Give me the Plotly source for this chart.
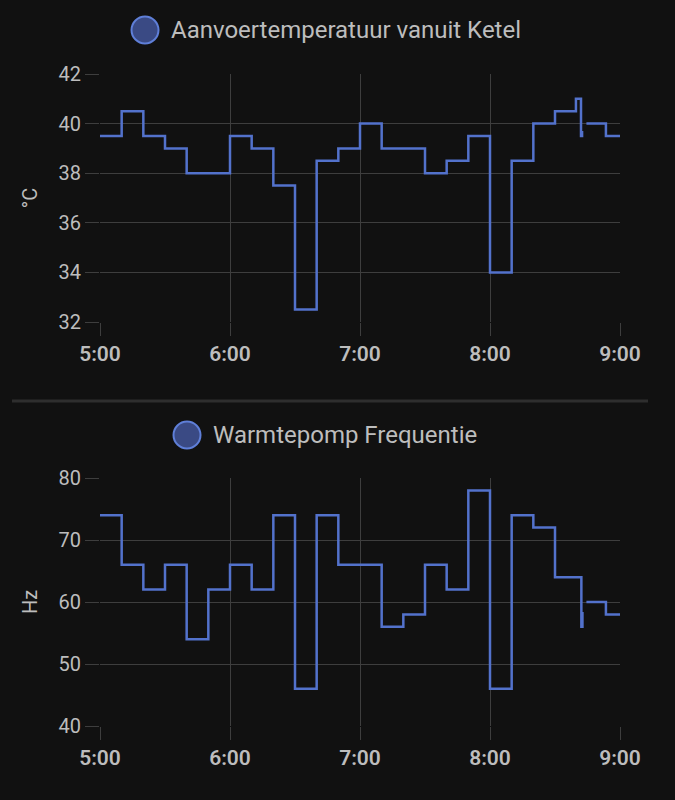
import plotly.graph_objects as go

# Aanvoertemperatuur vanuit Ketel (step data, None = gap)
temp_times = ['05:00', '05:10', '05:20', '05:30', '05:40', '06:00', '06:10', '06:20',
              '06:30', '06:40', '06:50', '07:00', '07:10', '07:30', '07:40', '07:50',
              '08:00', '08:10', '08:20', '08:30', '08:39:40', '08:42:00', '08:42:30',
              '08:43:30', '08:44:30', '08:53:30', '09:00']
temp_values = [39.5, 40.5, 39.5, 39, 38, 39.5, 39, 37.5,
               32.5, 38.5, 39, 40, 39, 38, 38.5, 39.5,
               34, 38.5, 40, 40.5, 41, 39.5, 39.7,
               None, 40, 39.5, 39.5]

# Warmtepomp Frequentie
freq_times = ['05:00', '05:10', '05:20', '05:30', '05:40', '05:50', '06:00', '06:10',
              '06:20', '06:30', '06:40', '06:50', '07:10', '07:20', '07:30', '07:40',
              '07:50', '08:00', '08:10', '08:20', '08:30', '08:42:10', '08:42:40',
              '08:43:30', '08:44:30', '08:53:30', '09:00']
freq_values = [74, 66, 62, 66, 54, 62, 66, 62,
               74, 46, 74, 66, 56, 58, 66, 62,
               78, 46, 74, 72, 64, 56, 58.4,
               None, 60, 58, 58]

day = '2024-01-01 '
temp_x = [day + t for t in temp_times]
freq_x = [day + t for t in freq_times]

hour_ticks = [day + h for h in ['05:00', '06:00', '07:00', '08:00', '09:00']]

bg = '#111111'
grid = '#3e3e3e'
txt = '#bdbdbd'
blue = '#5372cc'

W, H = 675, 800
# plot area in pixels (both charts share it)
L, R, T, B = 100, 620, 74, 726
PW, PH = R - L, B - T


def px(x):
    return (x - L) / PW


def py(y):
    return 1 - (y - T) / PH


fig = go.Figure()
fig.add_trace(go.Scatter(x=temp_x, y=temp_values, mode='lines', line_shape='hv',
                         line=dict(color=blue, width=2.5), connectgaps=False,
                         xaxis='x', yaxis='y', showlegend=False))
fig.add_trace(go.Scatter(x=freq_x, y=freq_values, mode='lines', line_shape='hv',
                         line=dict(color=blue, width=2.5), connectgaps=False,
                         xaxis='x2', yaxis='y2', showlegend=False))

xcommon = dict(type='date', range=[day + '05:00', day + '09:00'], tickvals=hour_ticks,
               tickformat='%-H:%M', showgrid=True, gridcolor=grid, gridwidth=1,
               ticks='outside', ticklen=13, tickcolor=grid, showline=False, zeroline=False,
               automargin=False,
               tickfont=dict(family='Roboto', size=21, color=txt, weight=600))
ycommon = dict(showgrid=True, gridcolor=grid, gridwidth=1, ticks='outside', ticklen=14,
               tickcolor=grid, showline=False, zeroline=False, automargin=False,
               tickfont=dict(family='Roboto', size=20, color=txt))

fig.update_layout(
    width=W, height=H,
    margin=dict(l=L, r=W - R, t=T, b=H - B),
    paper_bgcolor=bg, plot_bgcolor=bg,
    xaxis=dict(xcommon, anchor='y'),
    yaxis=dict(ycommon, range=[32, 42], dtick=2, anchor='x',
               domain=[py(322), 1],
               title=dict(text='°C', font=dict(family='Roboto', size=20, color=txt))),
    xaxis2=dict(xcommon, anchor='y2'),
    yaxis2=dict(ycommon, range=[40, 80], dtick=10, anchor='x2',
                domain=[0, py(478)],
                title=dict(text='Hz', font=dict(family='Roboto', size=20, color=txt))),
    showlegend=False,
)

# legend-like headers
legends = [('Aanvoertemperatuur vanuit Ketel', 145, 30), ('Warmtepomp Frequentie', 187, 435)]
for label, cx, cy in legends:
    r = 13.5
    fig.add_shape(type='circle', xref='paper', yref='paper',
                  x0=px(cx - r), x1=px(cx + r), y0=py(cy + r), y1=py(cy - r),
                  fillcolor='#3a4a84', line=dict(color='#5f7fd8', width=2))
    fig.add_annotation(text=label, xref='paper', yref='paper', x=px(cx + 24), y=py(cy),
                       xanchor='left', yanchor='middle', showarrow=False,
                       font=dict(family='Roboto', size=24, color=txt))

# separator between the two cards
fig.add_shape(type='line', xref='paper', yref='paper', x0=px(12), x1=px(648),
              y0=py(401), y1=py(401), line=dict(color='#2e2e2e', width=3))

fig.write_html('out.html', config={'displayModeBar': False},
               post_script="document.body.style.margin='0';document.body.style.background='#111111';")
